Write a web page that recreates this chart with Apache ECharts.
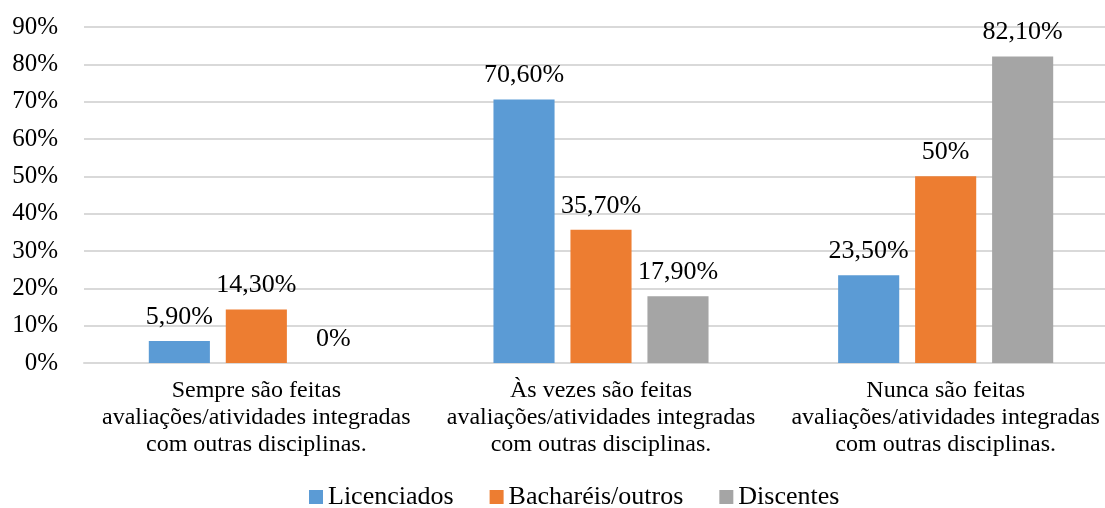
<!DOCTYPE html>
<html>
<head>
<meta charset="utf-8">
<script src="https://cdn.jsdelivr.net/npm/echarts@6/dist/echarts.min.js"></script>
<style>
  html, body { margin: 0; padding: 0; background: #fff; }
  #main { width: 1105px; height: 508px; }
</style>
</head>
<body>
<div id="main"></div>
<script>
var categories = [
  'Sempre são feitas\navaliações/atividades integradas\ncom outras disciplinas.',
  'Às vezes são feitas\navaliações/atividades integradas\ncom outras disciplinas.',
  'Nunca são feitas\navaliações/atividades integradas\ncom outras disciplinas.'
];
var licenciados = [5.9, 70.6, 23.5];
var bachareis = [14.3, 35.7, 50];
var discentes = [0, 17.9, 82.1];
var seriesNames = ['Licenciados', 'Bacharéis/outros', 'Discentes'];
var colors = ['#5B9BD5', '#ED7D31', '#A5A5A5'];

var font = '"Liberation Serif", "Times New Roman", serif';

function fmt(p) {
  var v = p.value;
  if (Math.round(v) === v) return v + '%';
  return v.toFixed(2).replace('.', ',') + '%';
}

var myChart = echarts.init(document.getElementById('main'));

function makeSeries(name, data, color) {
  return {
    name: name,
    type: 'bar',
    data: data,
    barGap: '26%',
    barCategoryGap: '37.6%',
    itemStyle: { color: color },
    label: {
      show: true,
      position: 'top',
      distance: 11,
      formatter: fmt,
      fontFamily: font,
      fontSize: 26,
      color: '#000'
    }
  };
}

var option = {
  animation: false,
  textStyle: { fontFamily: font },
  // plot area runs a bit past the right edge, as in the source image
  grid: { left: 84, width: 1034, top: 27, bottom: 145, outerBoundsMode: 'none' },
  legend: {
    top: 484,
    left: 309,
    padding: 0,
    itemWidth: 14,
    itemHeight: 14,
    itemGap: 36,
    icon: 'rect',
    textStyle: { fontFamily: font, fontSize: 26, color: '#000' },
    data: seriesNames
  },
  xAxis: {
    type: 'category',
    data: categories,
    axisLine: { lineStyle: { color: '#D9D9D9', width: 2 } },
    axisTick: { show: false },
    axisLabel: {
      interval: 0,
      margin: 14,
      fontFamily: font,
      fontSize: 24,
      lineHeight: 27,
      color: '#000'
    }
  },
  yAxis: {
    type: 'value',
    min: 0,
    max: 90,
    interval: 10,
    axisLine: { show: false },
    axisTick: { show: false },
    splitLine: { lineStyle: { color: '#D9D9D9', width: 2 } },
    axisLabel: {
      margin: 26,
      formatter: '{value}%',
      fontFamily: font,
      fontSize: 25,
      color: '#000'
    }
  },
  series: [
    makeSeries(seriesNames[0], licenciados, colors[0]),
    makeSeries(seriesNames[1], bachareis, colors[1]),
    makeSeries(seriesNames[2], discentes, colors[2])
  ]
};

myChart.setOption(option);
</script>
</body>
</html>
